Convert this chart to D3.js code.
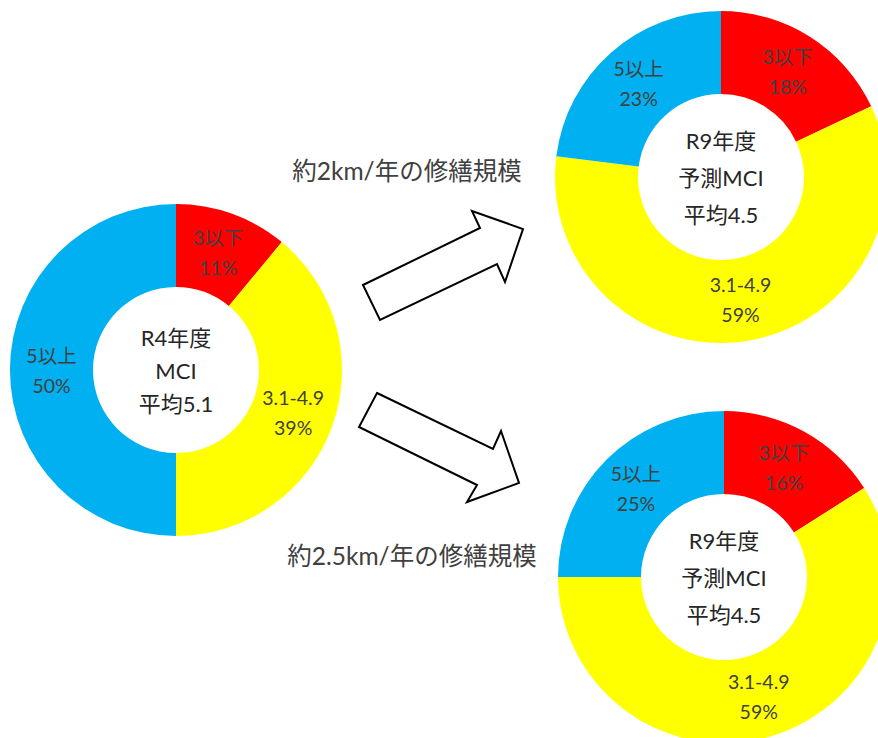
<!DOCTYPE html>
<html>
<head>
<meta charset="utf-8">
<script src="https://cdn.jsdelivr.net/npm/d3@7"></script>
<style>
  html, body { margin: 0; padding: 0; background: #fff; }
  svg { display: block; }
  text { font-family: Lato, "Noto Sans CJK JP", sans-serif; }
</style>
</head>
<body>
<svg id="chart" width="878" height="738"></svg>
<script>
// Road condition (MCI) class shares, current year and two repair-scale scenarios
const categories = ["3以下", "3.1-4.9", "5以上"];
const colors = ["#FF0000", "#FFFF00", "#00B0F0"];

const sharesR4 = [11, 39, 50];
const sharesR9at2km = [18, 59, 23];
const sharesR9at25km = [16, 59, 25];

const centerR4 = ["R4年度", "MCI", "平均5.1"];
const centerR9at2km = ["R9年度", "予測MCI", "平均4.5"];
const centerR9at25km = ["R9年度", "予測MCI", "平均4.5"];

const scenarioLabels = ["約2km/年の修繕規模", "約2.5km/年の修繕規模"];

const svg = d3.select("#chart");

const outerR = 166, innerR = 83;
const color = d3.scaleOrdinal().domain(categories).range(colors);
const pie = d3.pie().sort(null).value(d => d.value);
const arc = d3.arc().innerRadius(innerR).outerRadius(outerR);
const labelArc = d3.arc().innerRadius((innerR + outerR) / 2).outerRadius((innerR + outerR) / 2);

function donut(cx, cy, shares, centerLines, lineGap) {
  const data = categories.map((c, i) => ({ cat: c, value: shares[i] }));
  const g = svg.append("g").attr("transform", `translate(${cx},${cy})`);
  const arcs = pie(data);

  g.selectAll("path.slice").data(arcs).join("path")
    .attr("class", "slice")
    .attr("d", arc)
    .attr("fill", d => color(d.data.cat));

  const lbl = g.selectAll("g.lbl").data(arcs).join("g")
    .attr("class", "lbl")
    .attr("transform", d => `translate(${labelArc.centroid(d)})`);
  lbl.append("text")
    .attr("text-anchor", "middle")
    .attr("dominant-baseline", "central")
    .attr("y", -15)
    .attr("font-size", 19.5)
    .attr("fill", "#404040")
    .text(d => d.data.cat);
  lbl.append("text")
    .attr("text-anchor", "middle")
    .attr("dominant-baseline", "central")
    .attr("y", 15)
    .attr("font-size", 19.5)
    .attr("fill", "#404040")
    .text(d => d.data.value + "%");

  g.selectAll("text.center").data(centerLines).join("text")
    .attr("class", "center")
    .attr("text-anchor", "middle")
    .attr("dominant-baseline", "central")
    .attr("y", (d, i) => (i - 1) * lineGap)
    .attr("font-size", 22)
    .attr("fill", "#262626")
    .text(d => d);
}

donut(176, 370, sharesR4, centerR4, 33);
donut(721, 177, sharesR9at2km, centerR9at2km, 37);
donut(724, 577, sharesR9at25km, centerR9at25km, 37);

// Block arrows pointing from the current chart to each scenario
const arrowUp = [[363, 285], [480, 228], [472, 211], [523, 229], [505, 282], [497, 264], [380, 320]];
const arrowDown = [[377, 393], [493, 449], [501, 431], [519, 483], [467, 502], [477, 485], [359, 427]];
const line = d3.line().curve(d3.curveLinearClosed);
svg.selectAll("path.arrow").data([arrowUp, arrowDown]).join("path")
  .attr("class", "arrow")
  .attr("d", line)
  .attr("fill", "#fff")
  .attr("stroke", "#000")
  .attr("stroke-width", 2)
  .attr("stroke-linejoin", "miter");

svg.selectAll("text.scenario").data(scenarioLabels).join("text")
  .attr("class", "scenario")
  .attr("x", (d, i) => i === 0 ? 407 : 412)
  .attr("y", (d, i) => i === 0 ? 170 : 555)
  .attr("text-anchor", "middle")
  .attr("dominant-baseline", "central")
  .attr("font-size", 24.5)
  .attr("fill", "#404040")
  .text(d => d);
</script>
</body>
</html>
